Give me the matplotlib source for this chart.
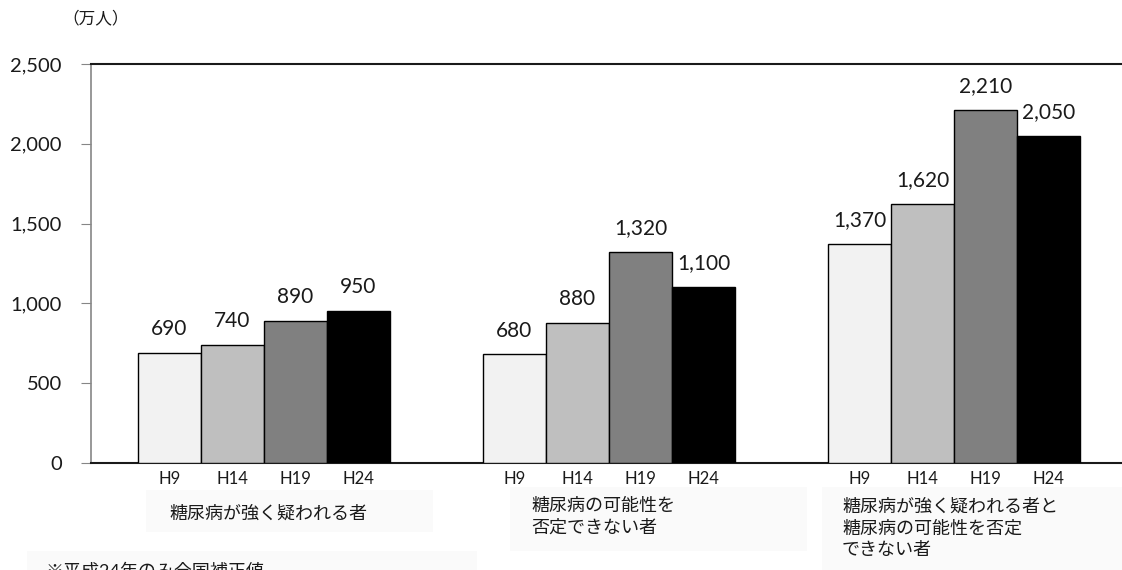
import matplotlib
matplotlib.use("Agg")
import matplotlib.pyplot as plt
from matplotlib.patches import Rectangle
import numpy as np

plt.rcParams['font.family'] = ['Lato', 'Noto Sans CJK JP', 'DejaVu Sans']

groups = ['糖尿病が強く疑われる者', '糖尿病の可能性を\n否定できない者',
          '糖尿病が強く疑われる者と\n糖尿病の可能性を否定\nできない者']
years = ['H9', 'H14', 'H19', 'H24']
h9 = [690, 680, 1370]
h14 = [740, 880, 1620]
h19 = [890, 1320, 2210]
h24 = [950, 1100, 2050]
series = [h9, h14, h19, h24]
colors = ['#f2f2f2', '#bfbfbf', '#808080', '#000000']
yticks = [0, 500, 1000, 1500, 2000, 2500]
unit_label = '（万人）'
note = '※平成24年のみ全国補正値'

W, H = 1122, 570
fig = plt.figure(figsize=(W / 100, H / 100), dpi=100)
ax = fig.add_axes([91 / W, 1 - 463 / H, (1121 - 91) / W, (463 - 64) / H])

x = np.arange(len(groups))
bw = 0.1826
centers = []
labels = []
for i, (vals, c) in enumerate(zip(series, colors)):
    pos = x + (i - 1.5) * bw
    ax.bar(pos, vals, width=bw, color=c, edgecolor='black', linewidth=1.0, zorder=3)
    for p, v in zip(pos, vals):
        ax.text(p, v + 150, f'{v:,}', ha='center', va='center', fontsize=15, color='#1a1a1a')
    centers.extend(pos)
    labels.extend([years[i]] * len(pos))

ax.set_xlim(-0.501, 2.484)
ax.set_ylim(0, 2500)
ax.set_yticks(yticks)
ax.set_yticklabels([f'{t:,}' for t in yticks], fontsize=14.5, color='#1a1a1a')
ax.tick_params(axis='y', direction='out', length=7, color='#868686', pad=14)
ax.set_xticks(centers)
ax.set_xticklabels(labels, fontsize=12, color='#1a1a1a')
ax.tick_params(axis='x', length=0, pad=6)

ax.spines['right'].set_visible(False)
ax.spines['left'].set_color('#868686')
ax.spines['left'].set_linewidth(1.2)
ax.spines['top'].set_color('#1a1a1a')
ax.spines['top'].set_linewidth(1.5)
ax.spines['bottom'].set_color('#1a1a1a')
ax.spines['bottom'].set_linewidth(1.5)


def fx(px):
    return px / W


def fy(py):
    return 1 - py / H


# label boxes (pixel layout)
boxes = [(146, 490, 433, 532), (510, 487, 807, 551), (822, 487, 1122, 572), (27, 551, 477, 572)]
for (x0, y0, x1, y1) in boxes:
    fig.patches.append(Rectangle((fx(x0), fy(y1)), fx(x1) - fx(x0), fy(y0) - fy(y1),
                                 transform=fig.transFigure, facecolor='#fafafa',
                                 edgecolor='none', zorder=0))

fig.text(fx(268), fy(519), groups[0], ha='center', va='baseline', fontsize=13, color='#1a1a1a')
fig.text(fx(531), fy(498), groups[1], ha='left', va='top', fontsize=13, color='#1a1a1a',
         linespacing=1.42)
fig.text(fx(842), fy(498), groups[2], ha='left', va='top', fontsize=13, color='#1a1a1a',
         linespacing=1.42)
fig.text(fx(45), fy(577), note, ha='left', va='baseline', fontsize=13, color='#1a1a1a')
fig.text(fx(62), fy(18), unit_label, ha='left', va='center', fontsize=12, color='#1a1a1a')

fig.savefig('out.png', dpi=100)
